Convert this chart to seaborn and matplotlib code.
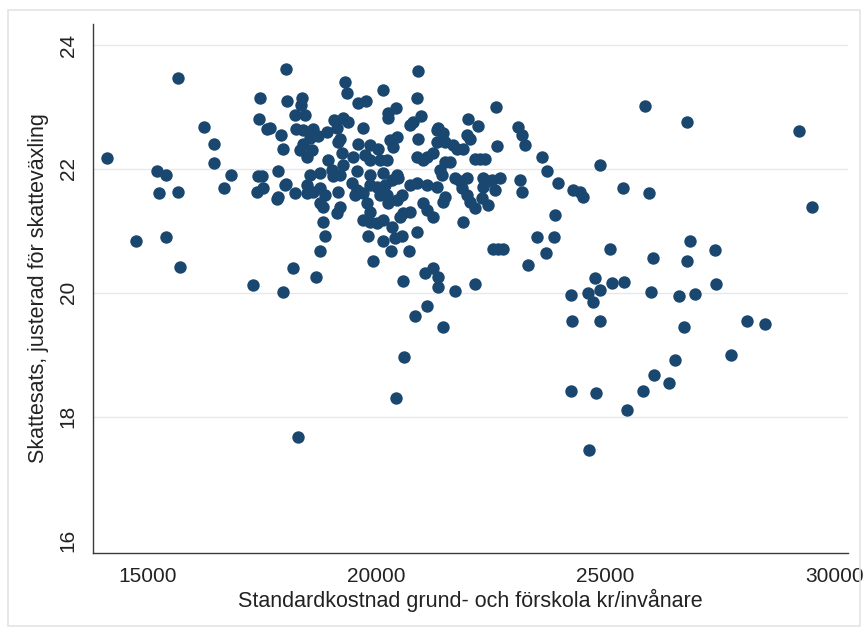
import matplotlib
matplotlib.use("Agg")
import matplotlib.pyplot as plt
from matplotlib.patches import Rectangle
import numpy as np
import pandas as pd
import seaborn as sns

# Standardkostnad (kr/invånare) and adjusted municipal tax rate, per municipality
kostnad_a = [15677, 14114, 16244, 16463, 16463, 15205, 15408, 15249, 15677, 16681,
             16834, 17460, 18028, 18043, 17438, 17606, 17919, 17969, 17860, 17423,
             17497, 17388, 17533, 18028, 17860,
             14753, 15408, 15714, 17301, 17969, 18181]
skatt_a = [23.47, 22.17, 22.67, 22.40, 22.09, 21.96, 21.90, 21.61, 21.63, 21.69,
           21.90, 23.15, 23.61, 23.10, 22.80, 22.65, 22.54, 22.33, 21.96, 21.89,
           21.89, 21.63, 21.69, 21.76, 21.55,
           20.83, 20.90, 20.41, 20.13, 20.01, 20.40]

kostnad_b = [19316, 19366, 20916, 20139, 20894, 18384, 18349, 19593, 19768, 20248,
             20429, 20248, 18224, 18443, 19076, 19279, 19388, 19135, 20807, 20968,
             20735, 18246, 18405, 18611, 17679, 19716, 18552, 18733, 18406, 18333,
             18589, 18480, 18916, 19207, 19170, 19606, 19862, 20043, 20298, 20444,
             20371, 20916, 21318, 21318, 20881, 21026, 21099, 21243, 18951, 19243,
             19025, 19279, 19497, 19752, 19862, 20080, 20226, 18552, 18771, 19060,
             19207, 19571, 19862, 20152, 20444]
skatt_b = [23.41, 23.23, 23.58, 23.27, 23.15, 23.15, 23.04, 23.06, 23.10, 22.91,
           22.98, 22.82, 22.87, 22.87, 22.79, 22.82, 22.76, 22.66, 22.76, 22.85,
           22.71, 22.65, 22.63, 22.64, 22.66, 22.66, 22.50, 22.53, 22.41, 22.31,
           22.31, 22.20, 22.60, 22.48, 22.44, 22.41, 22.39, 22.33, 22.47, 22.52,
           22.36, 22.48, 22.63, 22.44, 22.20, 22.15, 22.20, 22.25, 22.15, 22.25,
           21.98, 22.06, 22.20, 22.23, 22.15, 22.15, 22.15, 21.90, 21.93, 21.88,
           21.90, 21.96, 21.90, 21.93, 21.90]

kostnad_c = [18006, 18224, 17825, 18480, 18480, 18624, 18771, 18879, 19170, 19462,
             19571, 19534, 19716, 19862, 20008, 20189, 20335, 20481, 20080, 20226,
             20554, 20735, 20881, 21099, 21318, 18771, 18842, 19207, 19134, 19790,
             19862, 19716, 19862, 20008, 20152, 20261, 20444, 20589, 20735, 20516,
             21026, 21099, 21243, 18842, 18879, 18771, 19825, 20152, 20335, 20407,
             20554, 20316, 20720, 20881, 19921, 18683, 20575, 21062, 21243, 21353,
             21353, 21099, 20844, 20604, 20429, 18283]
skatt_c = [21.74, 21.61, 21.51, 21.74, 21.61, 21.63, 21.69, 21.58, 21.63, 21.77,
           21.66, 21.58, 21.61, 21.74, 21.71, 21.74, 21.82, 21.85, 21.58, 21.58,
           21.58, 21.74, 21.77, 21.74, 21.71, 21.45, 21.39, 21.39, 21.29, 21.45,
           21.31, 21.18, 21.15, 21.12, 21.18, 21.45, 21.50, 21.29, 21.31, 21.23,
           21.45, 21.34, 21.23, 21.15, 20.91, 20.68, 20.91, 20.83, 21.06, 20.88,
           20.91, 20.67, 20.67, 20.99, 20.52, 20.26, 20.19, 20.32, 20.40, 20.26,
           20.10, 19.78, 19.63, 18.96, 18.30, 17.67]

kostnad_d = [22612, 22008, 22226, 21353, 21462, 21499, 21681, 21972, 22044, 21899,
             21754, 22627, 23099, 23173, 23245, 21499, 21608, 21390, 21426, 22153,
             22262, 22372, 23609, 23718, 23972, 24300, 24446, 24518, 24883, 23136,
             23173, 21717, 21826, 21972, 21863, 22335, 22409, 22518, 22699, 22590,
             22335, 21499, 21462, 21972, 22044, 22153, 22299, 22444, 21899, 23900,
             22554, 22663, 22772, 23500, 23885, 23703, 23318, 21717, 22153, 21448,
             24250, 24627, 24736, 24883, 24278, 24883, 24250, 24795, 24642]
skatt_d = [23.00, 22.80, 22.70, 22.66, 22.58, 22.44, 22.39, 22.55, 22.49, 22.33,
           22.33, 22.37, 22.67, 22.55, 22.39, 22.12, 22.12, 21.98, 21.90, 22.16,
           22.16, 22.16, 22.20, 21.96, 21.77, 21.66, 21.63, 21.55, 22.06, 21.82,
           21.63, 21.85, 21.80, 21.85, 21.69, 21.85, 21.80, 21.82, 21.85, 21.66,
           21.71, 21.55, 21.47, 21.58, 21.47, 21.37, 21.53, 21.42, 21.15, 21.26,
           20.70, 20.70, 20.70, 20.90, 20.90, 20.64, 20.45, 20.03, 20.15, 19.45,
           19.97, 20.00, 19.86, 20.05, 19.55, 19.54, 18.41, 18.39, 17.47]

kostnad_e = [25864, 26791, 29233, 25378, 25956, 29517, 25101, 26033, 26856, 26783,
             27385, 24773, 25137, 25413, 25996, 26600, 26956, 27415, 26710, 28098,
             28491, 27744, 26526, 26061, 26382, 25821, 25472]
skatt_e = [23.02, 22.75, 22.62, 21.69, 21.61, 21.38, 20.70, 20.56, 20.84, 20.52,
           20.69, 20.24, 20.16, 20.18, 20.02, 19.95, 19.98, 20.15, 19.45, 19.55,
           19.50, 18.99, 18.91, 18.67, 18.54, 18.41, 18.11]

x_ticks = [15000, 20000, 25000, 30000]
y_ticks = [16, 18, 20, 22, 24]
x_title = "Standardkostnad grund- och förskola kr/invånare"
y_title = "Skattesats, justerad för skatteväxling"

df = pd.DataFrame({
    "kostnad": kostnad_a + kostnad_b + kostnad_c + kostnad_d + kostnad_e,
    "skatt": skatt_a + skatt_b + skatt_c + skatt_d + skatt_e,
})

sns.set_style("white")
plt.rcParams["font.family"] = ["Liberation Sans", "DejaVu Sans"]

W, H = 868, 633
fig = plt.figure(figsize=(W / 100, H / 100), dpi=100)
fig.patch.set_facecolor("white")
ax = fig.add_axes([93 / W, 1 - 553 / H, (848 - 93) / W, (553 - 24) / H])

# light frame around the graph region
fig.patches.append(Rectangle((8 / W, 1 - 626 / H), (860 - 8) / W, (626 - 10) / H,
                             transform=fig.transFigure, fill=False,
                             edgecolor="#e4e4e4", linewidth=1.2))

sns.scatterplot(data=df, x="kostnad", y="skatt", ax=ax, color="#1a476f",
                s=80, linewidth=0, alpha=1, zorder=3)

ax.set_xlim(13814, 30299)
ax.set_ylim(15.80, 24.34)
ax.set_xticks(x_ticks)
ax.set_yticks(y_ticks)
ax.set_xticklabels([str(v) for v in x_ticks])
ax.set_yticklabels([str(v) for v in y_ticks], rotation=90, va="center")

for v in y_ticks[1:]:
    ax.axhline(v, color="#e8e8e8", linewidth=1.0, zorder=1)

for side in ["top", "right"]:
    ax.spines[side].set_visible(False)
for side in ["left", "bottom"]:
    ax.spines[side].set_color("#3a3a3a")
    ax.spines[side].set_linewidth(1.0)

ax.tick_params(axis="both", which="major", direction="out", length=6, width=1,
               color="#3a3a3a", labelsize=15, labelcolor="#222222")
ax.tick_params(axis="y", pad=5)
ax.tick_params(axis="x", pad=4)

ax.set_xlabel(x_title, fontsize=15.5, color="#222222", labelpad=2)
ax.set_ylabel(y_title, fontsize=15.5, color="#222222", labelpad=7)

fig.savefig("out.png", dpi=100, facecolor="white")
